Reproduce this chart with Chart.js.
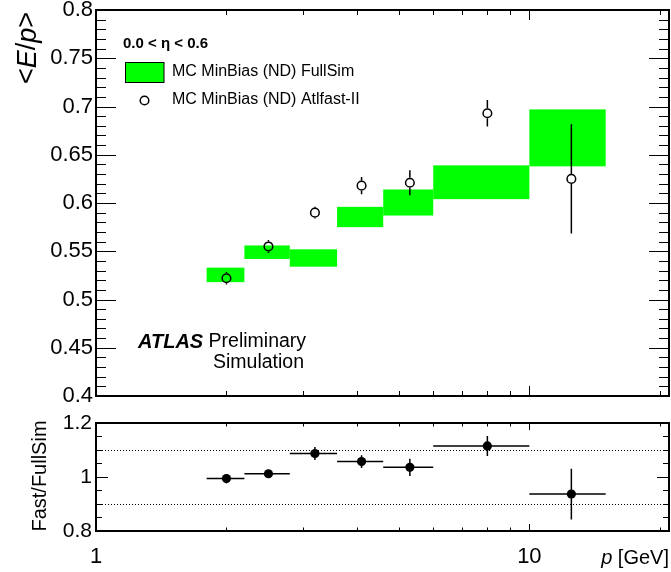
<!DOCTYPE html>
<html>
<head>
<meta charset="utf-8">
<script src="https://cdn.jsdelivr.net/npm/chart.js@4.4.0/dist/chart.umd.min.js"></script>
<style>
  body { margin: 0; background: #fff; }
  #wrap { position: relative; width: 671px; height: 572px; }
  canvas { position: absolute; left: 0; }
  #main { top: 0; }
  #ratio { top: 400px; }
</style>
</head>
<body>
<div id="wrap">
  <canvas id="main" width="671" height="420"></canvas>
  <canvas id="ratio" width="671" height="172"></canvas>
</div>
<script>
// momentum bins [GeV]
var binLo = [1.8, 2.2, 2.8, 3.6, 4.6, 6, 10];
var binHi = [2.2, 2.8, 3.6, 4.6, 6, 10, 15];
var binCenter = [2, 2.5, 3.2, 4.1, 5.3, 8, 12.5];

// FullSim <E/p> band, lower and upper edge per bin
var fullLo = [0.518, 0.542, 0.534, 0.575, 0.587, 0.604, 0.638];
var fullHi = [0.533, 0.556, 0.552, 0.596, 0.614, 0.639, 0.697];

// Atlfast-II <E/p> with stat. error
var fastVal = [0.522, 0.555, 0.590, 0.618, 0.621, 0.693, 0.625];
var fastErr = [0.0065, 0.0067, 0.006, 0.009, 0.013, 0.0137, 0.0565];

// Fast/FullSim ratio
var ratioVal = [0.994, 1.012, 1.087, 1.057, 1.036, 1.115, 0.937];
var ratioErr = [0.017, 0.013, 0.024, 0.024, 0.032, 0.037, 0.094];

// axis labels and reference lines
var xLabels = [1, 10];
var ratioLabels = [0.8, 1, 1.2];
var ratioLines = [0.9, 1.1];

var FONT = "'Liberation Sans', Arial, Helvetica, sans-serif";
var X_MIN = 1, X_MAX = 21;

// inward ROOT style tick marks
function tickList(from, to, step, majorEvery, majorLen, minorLen) {
  var out = [];
  var n = Math.round((to - from) / step);
  for (var i = 0; i <= n; i++) {
    out.push({ v: from + i * step, len: i % majorEvery === 0 ? majorLen : minorLen });
  }
  return out;
}
function logTicks(majorLen, minorLen) {
  var out = [];
  [2, 3, 4, 5, 6, 7, 8, 9, 20].forEach(function (v) { out.push({ v: v, len: minorLen }); });
  out.push({ v: 10, len: majorLen });
  return out;
}

function framePlugin(yTicks, xTicks) {
  return {
    id: 'frame',
    afterDatasetsDraw: function (chart) {
      var ctx = chart.ctx, a = chart.chartArea, xs = chart.scales.x, ys = chart.scales.y;
      ctx.save();
      ctx.strokeStyle = '#000';
      ctx.lineWidth = 1;
      ctx.beginPath();
      yTicks.forEach(function (t) {
        var py = Math.round(ys.getPixelForValue(t.v)) + 0.5;
        ctx.moveTo(a.left, py); ctx.lineTo(a.left + t.len, py);
        ctx.moveTo(a.right, py); ctx.lineTo(a.right - t.len, py);
      });
      xTicks.forEach(function (t) {
        var px = Math.round(xs.getPixelForValue(t.v)) + 0.5;
        ctx.moveTo(px, a.top); ctx.lineTo(px, a.top + t.len);
        ctx.moveTo(px, a.bottom); ctx.lineTo(px, a.bottom - t.len);
      });
      ctx.stroke();
      ctx.lineWidth = 2;
      ctx.strokeRect(a.left, a.top, a.right - a.left, a.bottom - a.top);
      ctx.restore();
    }
  };
}

// text made of pieces with different fonts
function drawRich(ctx, parts, x, y, align) {
  var w = 0;
  parts.forEach(function (p) { ctx.font = p[1]; w += ctx.measureText(p[0]).width; });
  var cx = align === 'right' ? x - w : (align === 'center' ? x - w / 2 : x);
  parts.forEach(function (p) {
    ctx.font = p[1];
    ctx.fillText(p[0], cx, y);
    cx += ctx.measureText(p[0]).width;
  });
}

var bandPlugin = {
  id: 'band',
  beforeDatasetsDraw: function (chart) {
    var ctx = chart.ctx, xs = chart.scales.x, ys = chart.scales.y;
    ctx.save();
    ctx.fillStyle = '#00ff00';
    binLo.forEach(function (lo, i) {
      var x0 = xs.getPixelForValue(lo), x1 = xs.getPixelForValue(binHi[i]);
      var y0 = ys.getPixelForValue(fullHi[i]), y1 = ys.getPixelForValue(fullLo[i]);
      ctx.fillRect(x0, y0, x1 - x0, y1 - y0);
    });
    ctx.restore();
  }
};

var fastErrPlugin = {
  id: 'fastErr',
  afterDatasetsDraw: function (chart) {
    var ctx = chart.ctx, xs = chart.scales.x, ys = chart.scales.y, r = 5;
    ctx.save();
    ctx.strokeStyle = '#000';
    ctx.lineWidth = 1.5;
    ctx.beginPath();
    binCenter.forEach(function (c, i) {
      var px = xs.getPixelForValue(c), pc = ys.getPixelForValue(fastVal[i]);
      var up = ys.getPixelForValue(fastVal[i] + fastErr[i]);
      var dn = ys.getPixelForValue(fastVal[i] - fastErr[i]);
      if (pc - up > r) { ctx.moveTo(px, pc - r); ctx.lineTo(px, up); }
      if (dn - pc > r) { ctx.moveTo(px, pc + r); ctx.lineTo(px, dn); }
    });
    ctx.stroke();
    ctx.restore();
  }
};

var mainText = {
  id: 'mainText',
  afterDraw: function (chart) {
    var ctx = chart.ctx;
    ctx.save();
    ctx.fillStyle = '#000';
    ctx.textBaseline = 'middle';

    // y title
    ctx.save();
    ctx.translate(28, 12);
    ctx.rotate(-Math.PI / 2);
    drawRich(ctx, [['<', '27px ' + FONT], ['E', 'italic 27px ' + FONT], ['/', '27px ' + FONT],
      ['p', 'italic 27px ' + FONT], ['>', '27px ' + FONT]], 0, 0, 'right');
    ctx.restore();

    // legend
    ctx.font = 'bold 15px ' + FONT;
    ctx.fillText('0.0 < \u03b7 < 0.6', 123, 44);
    ctx.fillStyle = '#00ff00';
    ctx.fillRect(125.5, 62.5, 38.5, 20);
    ctx.strokeStyle = '#000';
    ctx.lineWidth = 1;
    ctx.strokeRect(125.5, 62.5, 38.5, 20);
    ctx.fillStyle = '#000';
    ctx.font = '16px ' + FONT;
    ctx.fillText('MC MinBias (ND) FullSim', 172, 72);
    ctx.fillText('MC MinBias (ND) Atlfast-II', 172, 100);
    ctx.lineWidth = 1.5;
    ctx.beginPath();
    ctx.arc(144.5, 100.5, 4.3, 0, Math.PI * 2);
    ctx.stroke();

    // ATLAS label
    drawRich(ctx, [['ATLAS', 'bold italic 20px ' + FONT], [' Preliminary', '19.5px ' + FONT]], 138, 342, 'left');
    ctx.font = '19.5px ' + FONT;
    ctx.fillText('Simulation', 213, 363);
    ctx.restore();
  }
};

var ratioExtras = {
  id: 'ratioExtras',
  beforeDatasetsDraw: function (chart) {
    var ctx = chart.ctx, a = chart.chartArea, xs = chart.scales.x, ys = chart.scales.y;
    ctx.save();
    ctx.strokeStyle = '#000';
    ctx.lineWidth = 1;
    ctx.setLineDash([1, 2]);
    ctx.beginPath();
    ratioLines.forEach(function (v) {
      var py = Math.round(ys.getPixelForValue(v)) + 0.5;
      ctx.moveTo(a.left, py); ctx.lineTo(a.right, py);
    });
    ctx.stroke();
    ctx.setLineDash([]);
    ctx.lineWidth = 1.5;
    ctx.beginPath();
    binCenter.forEach(function (c, i) {
      var px = xs.getPixelForValue(c), py = ys.getPixelForValue(ratioVal[i]);
      ctx.moveTo(xs.getPixelForValue(binLo[i]), py);
      ctx.lineTo(xs.getPixelForValue(binHi[i]), py);
      ctx.moveTo(px, ys.getPixelForValue(ratioVal[i] + ratioErr[i]));
      ctx.lineTo(px, ys.getPixelForValue(ratioVal[i] - ratioErr[i]));
    });
    ctx.stroke();
    ctx.restore();
  },
  afterDraw: function (chart) {
    var ctx = chart.ctx;
    ctx.save();
    ctx.fillStyle = '#000';
    ctx.textBaseline = 'middle';
    ctx.save();
    ctx.translate(40, 76);
    ctx.rotate(-Math.PI / 2);
    ctx.font = '20px ' + FONT;
    ctx.textAlign = 'center';
    ctx.fillText('Fast/FullSim', 0, 0);
    ctx.restore();
    drawRich(ctx, [['p', 'italic 20px ' + FONT], [' [GeV]', '20px ' + FONT]], 669, 158.5, 'right');
    ctx.restore();
  }
};

function fmt(v) { return String(+Number(v).toFixed(2)); }

new Chart(document.getElementById('main'), {
  type: 'scatter',
  data: {
    datasets: [{
      label: 'MC MinBias (ND) Atlfast-II',
      data: binCenter.map(function (c, i) { return { x: c, y: fastVal[i] }; }),
      pointRadius: 4.3,
      pointBorderWidth: 1.5,
      pointBorderColor: '#000',
      pointBackgroundColor: 'rgba(0,0,0,0)',
      showLine: false
    }]
  },
  options: {
    responsive: false,
    animation: false,
    devicePixelRatio: 1,
    events: [],
    layout: { autoPadding: false, padding: { left: 0, right: 2, top: 10, bottom: 24 } },
    plugins: { legend: { display: false }, tooltip: { enabled: false } },
    scales: {
      x: { type: 'logarithmic', min: X_MIN, max: X_MAX, display: false },
      y: {
        min: 0.4, max: 0.8,
        grid: { display: false, drawTicks: false },
        border: { display: false },
        ticks: { stepSize: 0.05, padding: 3, color: '#000', font: { family: FONT, size: 22 }, callback: fmt },
        afterFit: function (s) { s.width = 96; s.paddingTop = 0; s.paddingBottom = 0; }
      }
    }
  },
  plugins: [bandPlugin, fastErrPlugin, framePlugin(tickList(0.4, 0.8, 0.01, 5, 20, 10), logTicks(10, 5)), mainText]
});

new Chart(document.getElementById('ratio'), {
  type: 'scatter',
  data: {
    datasets: [{
      label: 'Fast/FullSim',
      data: binCenter.map(function (c, i) { return { x: c, y: ratioVal[i] }; }),
      pointRadius: 4.6,
      pointBorderWidth: 0,
      pointBackgroundColor: '#000',
      showLine: false
    }]
  },
  options: {
    responsive: false,
    animation: false,
    devicePixelRatio: 1,
    events: [],
    layout: { autoPadding: false, padding: { left: 0, right: 2, top: 23, bottom: 0 } },
    plugins: { legend: { display: false }, tooltip: { enabled: false } },
    scales: {
      x: {
        type: 'logarithmic', min: X_MIN, max: X_MAX,
        grid: { display: false, drawTicks: false },
        border: { display: false },
        afterBuildTicks: function (s) { s.ticks = xLabels.map(function (v) { return { value: v }; }); },
        ticks: { autoSkip: false, maxRotation: 0, padding: 13, color: '#000', font: { family: FONT, size: 22 }, callback: fmt },
        afterFit: function (s) { s.height = 41; s.paddingLeft = 0; s.paddingRight = 0; }
      },
      y: {
        min: 0.8, max: 1.2,
        grid: { display: false, drawTicks: false },
        border: { display: false },
        afterBuildTicks: function (s) { s.ticks = ratioLabels.map(function (v) { return { value: v }; }); },
        ticks: { autoSkip: false, padding: 4, color: '#000', font: { family: FONT, size: 21 }, callback: fmt },
        afterFit: function (s) { s.width = 96; s.paddingTop = 0; s.paddingBottom = 0; }
      }
    }
  },
  plugins: [ratioExtras, framePlugin(tickList(0.8, 1.2, 0.05, 4, 12, 6), logTicks(7, 3.5))]
});
</script>
</body>
</html>
